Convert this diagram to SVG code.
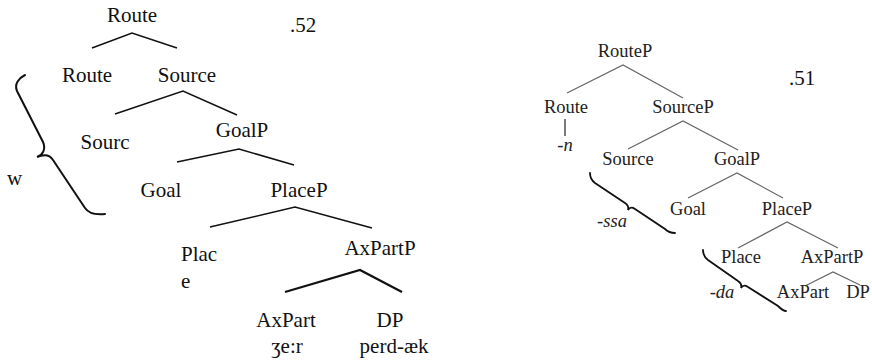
<svg xmlns="http://www.w3.org/2000/svg" width="872" height="361" viewBox="0 0 872 361">
<style>
.l{font-family:"Liberation Serif","Times New Roman",serif;font-size:21px;fill:#111;text-anchor:middle}
.ls{font-family:"Liberation Serif","Times New Roman",serif;font-size:21px;fill:#111}
.r{font-family:"Liberation Serif","Times New Roman",serif;font-size:18.5px;fill:#222;text-anchor:middle}
.e{stroke:#111;stroke-width:1.5;fill:none}
.eb{stroke:#111;stroke-width:2.3;fill:none}
.re{stroke:#666;stroke-width:1.2;fill:none}
.br{stroke:#111;stroke-width:2;fill:none;stroke-linecap:round}
.brr{stroke:#111;stroke-width:1.8;fill:none;stroke-linecap:round}
</style>
<rect width="872" height="361" fill="#fff"/>
<g id="connectors">
<polyline class="e" points="92,48 132,33 177,48"/>
<polyline class="e" points="115,114 183,91 237,115"/>
<polyline class="e" points="177,162 239,149 294,165"/>
<polyline class="e" points="210,227 295,207 372,228"/>
<polyline class="eb" points="285,292 360,270 402,292"/>
<path class="br" d="M25,75 C19,78 14,84 17,91 L43,142 C46,149 43,155 37,157 C44,154 50,155 53,160 L85,208 C89,214 96,215 105,214"/>
<polyline class="re" points="567,93 623,65 683,98"/>
<line class="re" x1="565" y1="119" x2="565" y2="136" style="stroke:#222"/>
<polyline class="re" points="628,149 683,121 738,150"/>
<polyline class="re" points="688,198 737,173 783,198"/>
<polyline class="re" points="738,248 787,222 838,248"/>
<polyline class="re" points="805,286 833,272 860,285"/>
<path class="brr" d="M590,173 C590,177 591,180 595,183 L625,203 C628,205 629,207 628,210 C630,207 632,207 635,209 L665,229 C668,232 671,233 675,233"/>
<path class="brr" d="M703,250 C703,254 704,257 708,260 L738,281 C741,283 742,285 741,288 C743,285 745,285 748,287 L778,306 C781,309 783,311 786,311"/>
</g>
<g id="n-route"><text class="l" x="132" y="22">Route</text></g>
<g id="n-52"><text class="ls" x="290" y="32">.52</text></g>
<g id="n-route2"><text class="l" x="87" y="82">Route</text></g>
<g id="n-source"><text class="l" x="187" y="82">Source</text></g>
<g id="n-sourc"><text class="l" x="105" y="149">Sourc</text></g>
<g id="n-goalp"><text class="l" x="242" y="137">GoalP</text></g>
<g id="n-w"><text class="ls" x="7" y="185">w</text></g>
<g id="n-goal"><text class="l" x="161" y="197">Goal</text></g>
<g id="n-placep"><text class="l" x="299" y="197">PlaceP</text></g>
<g id="n-place"><text class="ls" x="181" y="261">Plac</text><text class="ls" x="181" y="288">e</text></g>
<g id="n-axpartp"><text class="l" x="380" y="255">AxPartP</text></g>
<g id="n-axpart"><text class="l" x="286" y="327">AxPart</text><text class="l" x="287" y="353">ʒe:r</text></g>
<g id="n-dp"><text class="l" x="390" y="327">DP</text><text class="l" x="394" y="353">perd-æk</text></g>
<g id="r-routep"><text class="r" x="625" y="57">RouteP</text></g>
<g id="r-51"><text class="ls" x="789" y="85">.51</text></g>
<g id="r-route"><text class="r" x="566" y="113">Route</text></g>
<g id="r-n"><text class="r" x="565" y="151">-<tspan font-style="italic">n</tspan></text></g>
<g id="r-sourcep"><text class="r" x="683" y="113">SourceP</text></g>
<g id="r-source"><text class="r" x="628" y="165">Source</text></g>
<g id="r-goalp"><text class="r" x="737" y="165">GoalP</text></g>
<g id="r-ssa"><text class="r" x="612" y="227">-<tspan font-style="italic">ssa</tspan></text></g>
<g id="r-goal"><text class="r" x="688" y="215">Goal</text></g>
<g id="r-placep"><text class="r" x="787" y="215">PlaceP</text></g>
<g id="r-place"><text class="r" x="741" y="263">Place</text></g>
<g id="r-axpartp"><text class="r" x="832" y="263">AxPartP</text></g>
<g id="r-da"><text class="r" x="722" y="298">-<tspan font-style="italic">da</tspan></text></g>
<g id="r-axpart"><text class="r" x="803" y="298">AxPart</text></g>
<g id="r-dp"><text class="r" x="858" y="298">DP</text></g>
</svg>
